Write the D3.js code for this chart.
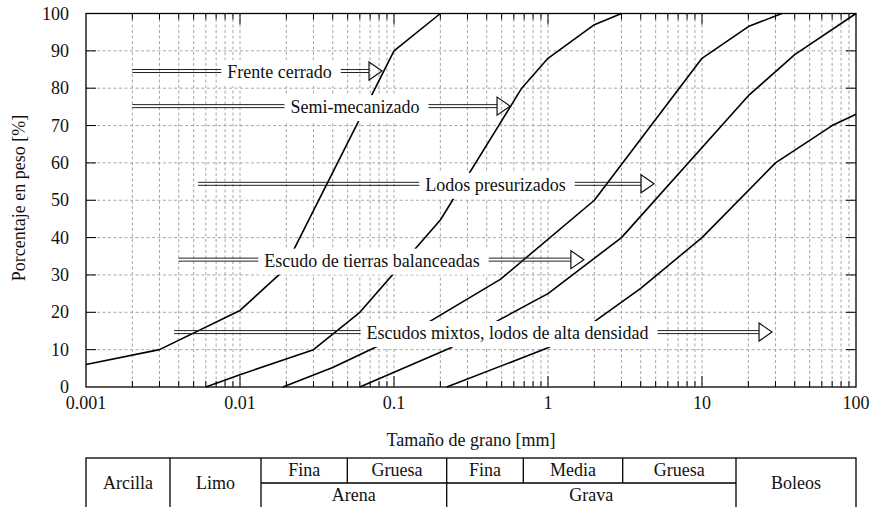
<!DOCTYPE html>
<html><head><meta charset="utf-8">
<script src="https://cdn.jsdelivr.net/npm/d3@7"></script>
<style>
body{margin:0;background:#fff}
svg{display:block}
text{font-family:"Liberation Serif","Times New Roman",serif;fill:#111}
</style>
</head><body>
<svg id="c" width="872" height="507"></svg>
<script>
// ---------- data ----------
const xTickValues = [0.001, 0.01, 0.1, 1, 10, 100];
const xTickLabels = ["0.001", "0.01", "0.1", "1", "10", "100"];
const yTickValues = [0, 10, 20, 30, 40, 50, 60, 70, 80, 90, 100];

// grading curves: [grain size mm, % passing]
const curve1 = [[0.001,6],[0.003,10],[0.01,20.5],[0.019,31],[0.1,90],[0.2,100]];
const curve2 = [[0.006,0],[0.01,3.3],[0.03,10],[0.06,20],[0.2,44.7],[0.675,80],[1,88],[2,97],[3,100]];
const curve3 = [[0.019,0],[0.04,5.2],[0.077,10.8],[0.17,17.5],[0.49,28.8],[2,50],[10,88],[20,96.5],[33,100]];
const curve4 = [[0.06,0],[0.236,10.6],[0.46,17.5],[1,25],[3,40],[20,78],[40,89],[100,100]];
const curve5 = [[0.22,0],[1,10.5],[2,17.5],[4,26.4],[10,40],[30,60],[70,70],[100,73]];

// arrow labels
const labelTexts  = ["Frente cerrado","Semi-mecanizado","Lodos presurizados","Escudo de tierras balanceadas","Escudos mixtos, lodos de alta densidad"];
const labelLevel  = [84.6, 75.2, 54.4, 34.1, 14.7];
const labelStart  = [0.002, 0.002, 0.00534, 0.004, 0.00373];
const labelCenter = [0.01805, 0.0558, 0.456, 0.072, 0.546];
const labelTip    = [0.0836, 0.567, 4.88, 1.71, 28.5];

// soil classification table
const tableSpanLabels = ["Arcilla", "Limo", "Boleos"];
const tableTopLabels = ["Fina", "Gruesa", "Fina", "Media", "Gruesa"];
const tableBottomLabels = ["Arena", "Grava"];

// ---------- drawing ----------
const svg = d3.select("#c");
const L = 86, R = 856, T = 13.5, B = 387;
const x = d3.scaleLog().domain([0.001, 100]).range([L, R]);
const y = d3.scaleLinear().domain([0, 100]).range([B, T]);

const gridColor = "#9c9c9c";
const allX = x.ticks();  // 1..9 per decade
// vertical grid
svg.append("g").selectAll("line").data(allX.filter(v => v > 0.001 && v < 100)).join("line")
  .attr("x1", d => x(d)).attr("x2", d => x(d)).attr("y1", T).attr("y2", B)
  .attr("stroke", gridColor).attr("stroke-width", 0.9).attr("stroke-dasharray", "3,2.5");
// horizontal grid
svg.append("g").selectAll("line").data(yTickValues.filter(v => v > 0 && v < 100)).join("line")
  .attr("x1", L).attr("x2", R).attr("y1", d => y(d)).attr("y2", d => y(d))
  .attr("stroke", gridColor).attr("stroke-width", 0.9).attr("stroke-dasharray", "3,2.5");

// curves
const line = d3.line().x(d => x(d[0])).y(d => y(d[1]));
svg.append("g").selectAll("path").data([curve1, curve2, curve3, curve4, curve5]).join("path")
  .attr("d", line).attr("fill", "none").attr("stroke", "#000").attr("stroke-width", 1.6)
  .attr("stroke-linejoin", "round");

// arrows with labels
const headW = 13, headH = 9;
const gA = svg.append("g");
labelTexts.forEach((t, i) => {
  const sy = y(labelLevel[i]);
  const x0 = x(labelStart[i]);
  const tip = x(labelTip[i]);
  const base = tip - headW;
  [-1.5, 1.5].forEach(off => {
    gA.append("line").attr("x1", x0).attr("x2", base).attr("y1", sy + off).attr("y2", sy + off)
      .attr("stroke", "#222").attr("stroke-width", 1);
  });
  const box = gA.append("rect").attr("fill", "#fff");
  const tx = gA.append("text").attr("x", x(labelCenter[i])).attr("y", sy + 7)
    .attr("text-anchor", "middle").attr("font-size", 18).text(t);
  const bb = tx.node().getBBox();
  box.attr("x", bb.x - 6).attr("width", bb.width + 15).attr("y", sy - 11).attr("height", 26);
  gA.append("path")
    .attr("d", `M${base},${sy - headH}L${tip},${sy}L${base},${sy + headH}Z`)
    .attr("fill", "none").attr("stroke", "#111").attr("stroke-width", 1.2).attr("stroke-linejoin", "miter");
});

// ticks (inward) top & bottom
const gT = svg.append("g").attr("stroke", "#000").attr("stroke-width", 1);
allX.filter(v => v > 0.001 && v < 100).forEach(v => {
  const major = xTickValues.includes(v);
  const len = major ? 11 : 6;
  gT.append("line").attr("x1", x(v)).attr("x2", x(v)).attr("y1", B).attr("y2", B - len);
  gT.append("line").attr("x1", x(v)).attr("x2", x(v)).attr("y1", T).attr("y2", T + len);
});
yTickValues.filter(v => v > 0 && v < 100).forEach(v => {
  gT.append("line").attr("x1", L).attr("x2", L + 10).attr("y1", y(v)).attr("y2", y(v));
  gT.append("line").attr("x1", R).attr("x2", R - 10).attr("y1", y(v)).attr("y2", y(v));
});
// frame
svg.append("rect").attr("x", L).attr("y", T).attr("width", R - L).attr("height", B - T)
  .attr("fill", "none").attr("stroke", "#000").attr("stroke-width", 1.3);

// tick labels
svg.append("g").selectAll("text").data(xTickValues).join("text")
  .attr("x", d => x(d)).attr("y", 409).attr("text-anchor", "middle").attr("font-size", 18)
  .text((d, i) => xTickLabels[i]);
svg.append("g").selectAll("text").data(yTickValues).join("text")
  .attr("x", 69).attr("y", d => y(d) + 6).attr("text-anchor", "end").attr("font-size", 18)
  .text(d => d);

// axis titles
svg.append("text").attr("transform", "translate(25,198) rotate(-90)").attr("text-anchor", "middle")
  .attr("font-size", 18).text("Porcentaje en peso [%]");
svg.append("text").attr("x", 471).attr("y", 446).attr("text-anchor", "middle")
  .attr("font-size", 18).text("Tamaño de grano [mm]");

// table
const tb = [L, 170, 261, 347.3, 446.7, 523.3, 622.7, 736, R];
const tTop = 458, tMid = 483, tBot = 508;
const gTb = svg.append("g").attr("stroke", "#000").attr("stroke-width", 1.3);
gTb.append("rect").attr("x", L).attr("y", tTop).attr("width", R - L).attr("height", tBot - tTop).attr("fill", "none");
[1, 2, 4, 7].forEach(k => gTb.append("line").attr("x1", tb[k]).attr("x2", tb[k]).attr("y1", tTop).attr("y2", tBot));
[3, 5, 6].forEach(k => gTb.append("line").attr("x1", tb[k]).attr("x2", tb[k]).attr("y1", tTop).attr("y2", tMid));
gTb.append("line").attr("x1", tb[2]).attr("x2", tb[7]).attr("y1", tMid).attr("y2", tMid);

const spanIdx = [[0, 1], [1, 2], [7, 8]];
tableSpanLabels.forEach((t, i) => {
  svg.append("text").attr("x", (tb[spanIdx[i][0]] + tb[spanIdx[i][1]]) / 2).attr("y", 489)
    .attr("text-anchor", "middle").attr("font-size", 18).text(t);
});
tableTopLabels.forEach((t, i) => {
  svg.append("text").attr("x", (tb[i + 2] + tb[i + 3]) / 2).attr("y", 476)
    .attr("text-anchor", "middle").attr("font-size", 18).text(t);
});
const botIdx = [[2, 4], [4, 7]];
tableBottomLabels.forEach((t, i) => {
  svg.append("text").attr("x", (tb[botIdx[i][0]] + tb[botIdx[i][1]]) / 2).attr("y", 501)
    .attr("text-anchor", "middle").attr("font-size", 18).text(t);
});
</script>
</body></html>
